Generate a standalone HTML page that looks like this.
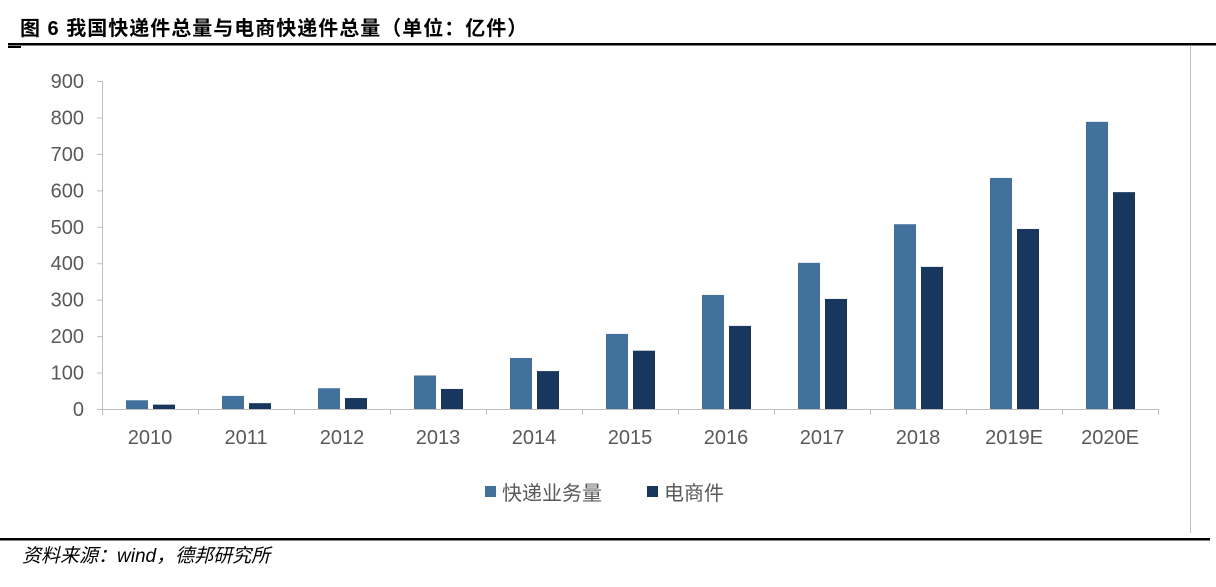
<!DOCTYPE html>
<html><head><meta charset="utf-8"><style>
body{margin:0;background:#fff;width:1216px;height:582px;overflow:hidden;font-family:"Liberation Sans","Noto Sans CJK SC",sans-serif}
</style></head><body>
<svg width="1216" height="582" xmlns="http://www.w3.org/2000/svg">
<text x="20" y="35" font-size="20" font-weight="bold" fill="#000" font-family="Liberation Sans,Noto Sans CJK SC,sans-serif" letter-spacing="1">图 6 我国快递件总量与电商快递件总量（单位：亿件）</text>
<rect x="8" y="43" width="1208" height="2.5" fill="#000"/>
<rect x="8" y="46" width="13" height="2" fill="#000"/>
<line x1="1190.5" y1="46" x2="1190.5" y2="533" stroke="#bfbfbf"/>
<rect x="0" y="538" width="1210" height="2.5" fill="#000"/>
<text x="22" y="562" font-size="19" font-style="italic" fill="#000">资料来源：wind，德邦研究所</text>
<g id="axes"></g><g id="bars"></g>
<g>
<rect x="485" y="486" width="11" height="11" fill="#41719c"/>
<text x="502" y="500" font-size="20" fill="#595959">快递业务量</text>
<rect x="647" y="486" width="11" height="11" fill="#17375e"/>
<text x="664" y="500" font-size="20" fill="#595959">电商件</text>
</g>
</svg>
<script>
const categories=["2010","2011","2012","2013","2014","2015","2016","2017","2018","2019E","2020E"];
const expressVals=[24,36,57,92,140,206,313,401,507,634,788];
const ecomVals=[12,16,30,55,104,160,228,302,390,494,595];
const yTicks=[0,100,200,300,400,500,600,700,800,900];
const NS="http://www.w3.org/2000/svg";
const x0=102,x1=1158,yB=409,yT=81,yMax=900;
const cw=(x1-x0)/categories.length;
const y=v=>yB-(v/yMax)*(yB-yT);
function mk(t,a,p){const e=document.createElementNS(NS,t);for(const k in a)e.setAttribute(k,a[k]);p.appendChild(e);return e;}
const ax=document.getElementById('axes'),bg=document.getElementById('bars');
const ya=mk('line',{x1:x0+.5,y1:yT,x2:x0+.5,y2:yB,stroke:'#bfbfbf'},ax);

const xa=mk('line',{x1:x0,y1:yB+.5,x2:x1,y2:yB+.5,stroke:'#bfbfbf'},ax);

yTicks.forEach(v=>{
 const tk=mk('line',{x1:x0-5,y1:y(v)+.5,x2:x0,y2:y(v)+.5,stroke:'#bfbfbf'},ax);
 
 const t=mk('text',{x:84,y:y(v)+7,'font-size':20,fill:'#595959','text-anchor':'end'},ax);t.textContent=v;
 
});
for(let i=0;i<=categories.length;i++){
 const tk=mk('line',{x1:x0+i*cw+.5,y1:yB,x2:x0+i*cw+.5,y2:yB+6,stroke:'#bfbfbf'},ax);
 
}
categories.forEach((c,i)=>{
 const cx=x0+i*cw;
 const t=mk('text',{x:cx+cw/2,y:444,'font-size':20,fill:'#595959','text-anchor':'middle'},ax);t.textContent=c;
 
 const b1=mk('rect',{x:cx+24,y:y(expressVals[i]),width:22,height:yB-y(expressVals[i]),fill:'#41719c'},bg);
 
 const b2=mk('rect',{x:cx+51,y:y(ecomVals[i]),width:22,height:yB-y(ecomVals[i]),fill:'#17375e'},bg);
 
});
</script>
</body></html>
